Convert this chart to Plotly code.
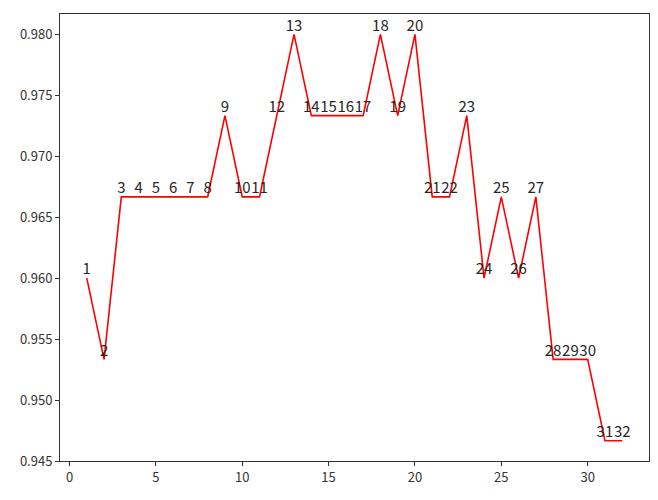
import plotly.graph_objects as go

x_vals = list(range(1, 33))
y_num = [144, 143, 145, 145, 145, 145, 145, 145, 146, 145, 145, 146, 147, 146, 146, 146,
         146, 147, 146, 147, 145, 145, 146, 144, 145, 144, 145, 143, 143, 143, 142, 142]
y_vals = [v / 150 for v in y_num]
labels = [str(i) for i in x_vals]
x_ticks = [0, 5, 10, 15, 20, 25, 30]
y_ticks = [0.945, 0.950, 0.955, 0.960, 0.965, 0.970, 0.975, 0.980]

font_family = "Noto Sans CJK SC, DejaVu Sans, sans-serif"

fig = go.Figure()
fig.add_trace(go.Scatter(
    x=x_vals, y=y_vals, mode="lines+text", text=labels,
    textposition="top center",
    textfont=dict(family=font_family, size=15, color="#262626"),
    line=dict(color="#ff0000", width=1.6),
    cliponaxis=False,
    showlegend=False,
))

axis_common = dict(
    showgrid=False, zeroline=False, showline=True, linecolor="#333333", linewidth=1,
    mirror=True, ticks="outside", ticklen=4, tickcolor="#333333", tickwidth=1,
    tickfont=dict(family=font_family, size=13, color="#333333"),
    automargin=False,
)
fig.update_xaxes(range=[-0.55, 33.55], tickvals=x_ticks, **axis_common)
fig.update_yaxes(range=[0.945, 0.98167], tickvals=y_ticks, tickformat=".3f", **axis_common)

fig.update_layout(
    width=642, height=484,
    margin=dict(l=52, r=1, t=6, b=31),
    paper_bgcolor="white", plot_bgcolor="white",
)
fig.write_html("out.html")
